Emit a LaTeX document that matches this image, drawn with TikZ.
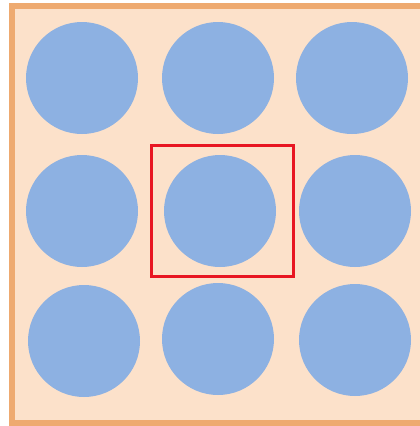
\documentclass[tikz,border=0pt]{standalone}
\usetikzlibrary{positioning}
\definecolor{PaperClr}{RGB}{252,225,202}
\definecolor{EdgeClr}{RGB}{238,170,112}
\definecolor{DotClr}{RGB}{141,177,226}
\definecolor{FrameClr}{RGB}{232,22,34}

\begin{document}
\begin{tikzpicture}[x=0.75pt,y=-0.75pt,
  dot/.style={circle,fill=DotClr,draw=none,inner sep=0pt,minimum size=84pt},
  frame/.style={rectangle,draw=FrameClr,line width=2.25pt,inner sep=0pt,
    minimum width=106.5pt,minimum height=98.25pt}]
\useasboundingbox (0,0) rectangle (420,426);

% paper
\fill[PaperClr] (12,5.5) rectangle (426,422.5);
\draw[EdgeClr,line width=4.5pt] (426,5.5) -- (12,5.5) -- (12,422.5) -- (426,422.5);

% top row
\node[dot] (d11) at (82,78) {};
\node[dot] (d12) at (218,78) {};
\node[dot] (d13) at (352,78) {};
% middle row
\node[dot] (d21) at (82,211) {};
\node[dot] (d22) at (220,211) {};
\node[dot] (d23) at (355,211) {};
% bottom row
\node[dot] (d31) at (84,341) {};
\node[dot] (d32) at (218,339) {};
\node[dot] (d33) at (355,340) {};

% marked cell
\node[frame] (mark) at (222,210.5) {};

\end{tikzpicture}
\end{document}
